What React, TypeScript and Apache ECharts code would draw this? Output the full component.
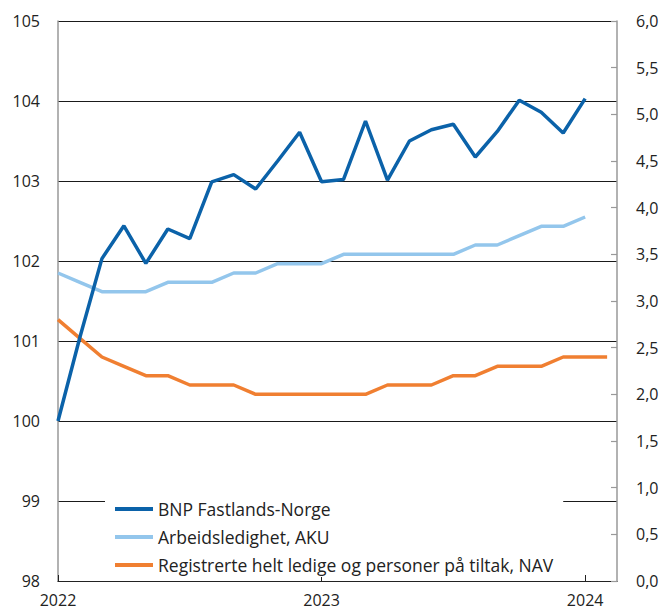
import React, { useEffect, useRef } from "react";
import * as echarts from "echarts";

const startYear = 2022;
const seriesNames = [
  "BNP Fastlands-Norge",
  "Arbeidsledighet, AKU",
  "Registrerte helt ledige og personer på tiltak, NAV",
];
// Monthly values starting January 2022
const bnp = [
  100, 101.05, 102.03, 102.44, 101.97, 102.4, 102.28, 102.99, 103.08, 102.9, 103.25, 103.61,
  102.99, 103.02, 103.75, 103.01, 103.5, 103.64, 103.71, 103.3, 103.62, 104.01, 103.86, 103.6,
  104.03,
];
const aku = [
  3.3, 3.2, 3.1, 3.1, 3.1, 3.2, 3.2, 3.2, 3.3, 3.3, 3.4, 3.4, 3.4, 3.5, 3.5, 3.5, 3.5, 3.5, 3.5,
  3.6, 3.6, 3.7, 3.8, 3.8, 3.9,
];
const nav = [
  2.8, 2.6, 2.4, 2.3, 2.2, 2.2, 2.1, 2.1, 2.1, 2.0, 2.0, 2.0, 2.0, 2.0, 2.0, 2.1, 2.1, 2.1, 2.2,
  2.2, 2.3, 2.3, 2.3, 2.4, 2.4, 2.4,
];
const colors = ["#0b62a9", "#93c6ec", "#f07f31"];

const toPairs = (arr: number[]) => arr.map((v, i) => [i, v]);

const FONT = "Open Sans";

export default function App() {
  const ref = useRef<HTMLDivElement>(null);
  useEffect(() => {
    if (!ref.current) return;
    const chart = echarts.init(ref.current, undefined, { renderer: "svg" });
    chart.setOption({
      animation: false,
      textStyle: { fontFamily: FONT },
      grid: { left: 58, right: 46, top: 21, bottom: 29, containLabel: false },
      legend: {
        orient: "vertical",
        left: 105,
        top: 490,
        padding: [9, 10, 2, 10],
        backgroundColor: "#ffffff",
        itemWidth: 38,
        itemHeight: 4,
        itemGap: 8,
        icon: "rect",
        textStyle: { fontFamily: FONT, fontSize: 17.5, color: "#222", lineHeight: 20 },
        data: seriesNames,
      },
      xAxis: {
        type: "value",
        min: 0,
        max: 25.45,
        interval: 12,
        axisLine: { show: true, lineStyle: { color: "#222", width: 1.2 } },
        axisTick: { show: true, inside: true, length: 6, lineStyle: { color: "#222" } },
        axisLabel: {
          fontFamily: FONT,
          fontSize: 16,
          color: "#222",
          margin: 11,
          showMaxLabel: false,
          formatter: (v: number) => (v % 12 === 0 ? String(startYear + v / 12) : ""),
        },
        splitLine: { show: false },
      },
      yAxis: [
        {
          type: "value",
          min: 98,
          max: 105,
          interval: 1,
          position: "left",
          axisLine: { show: true, lineStyle: { color: "#999", width: 1.5 } },
          axisTick: { show: false },
          axisLabel: { fontFamily: FONT, fontSize: 16, color: "#222", margin: 18 },
          splitLine: { show: true, lineStyle: { color: "#1a1a1a", width: 1 } },
        },
        {
          type: "value",
          min: 0,
          max: 6,
          interval: 0.5,
          position: "right",
          axisLine: { show: true, lineStyle: { color: "#999", width: 1.5 } },
          axisTick: { show: true, inside: true, length: 6, lineStyle: { color: "#999", width: 1.2 } },
          axisLabel: {
            fontFamily: FONT,
            fontSize: 16,
            color: "#222",
            margin: 19,
            formatter: (v: number) => v.toFixed(1).replace(".", ","),
          },
          splitLine: { show: false },
        },
      ],
      series: [
        {
          name: seriesNames[0],
          type: "line",
          yAxisIndex: 0,
          data: toPairs(bnp),
          showSymbol: false,
          symbol: "none",
          lineStyle: { color: colors[0], width: 3.5 },
          itemStyle: { color: colors[0] },
          z: 5,
        },
        {
          name: seriesNames[1],
          type: "line",
          yAxisIndex: 1,
          data: toPairs(aku),
          showSymbol: false,
          symbol: "none",
          lineStyle: { color: colors[1], width: 3.5 },
          itemStyle: { color: colors[1] },
          z: 3,
        },
        {
          name: seriesNames[2],
          type: "line",
          yAxisIndex: 1,
          data: toPairs(nav),
          showSymbol: false,
          symbol: "none",
          lineStyle: { color: colors[2], width: 3.5 },
          itemStyle: { color: colors[2] },
          z: 4,
        },
      ],
    });
    return () => chart.dispose();
  }, []);
  return (
    <div
      ref={ref}
      style={{ position: "fixed", left: 0, top: 0, width: 663, height: 610, background: "#fff" }}
    />
  );
}
